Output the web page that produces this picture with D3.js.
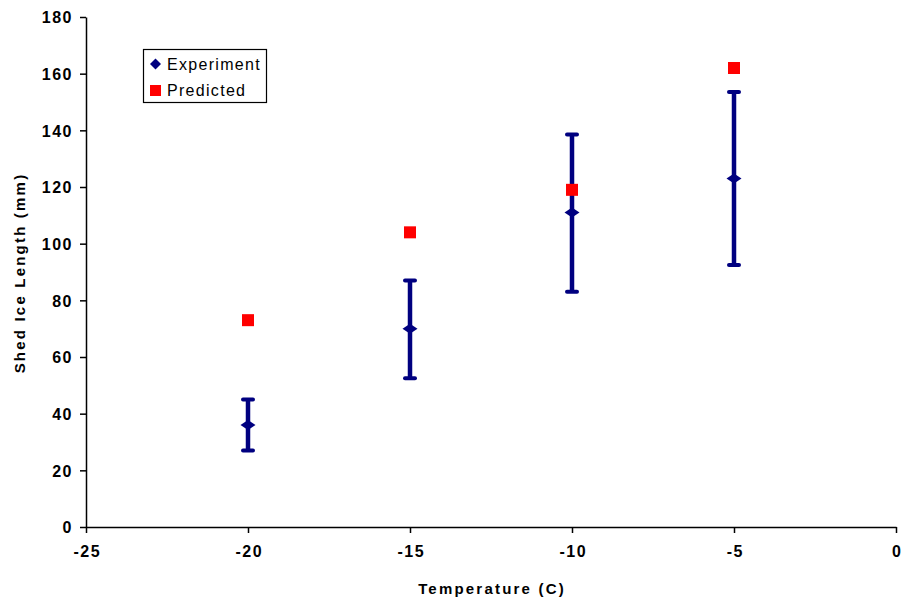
<!DOCTYPE html>
<html><head><meta charset="utf-8">
<script src="https://cdn.jsdelivr.net/npm/d3@7/dist/d3.min.js"></script>
<style>body{margin:0;background:#fff;} svg{display:block;}</style>
</head><body>
<svg id="c" width="905" height="606"></svg>
<script>
const temps = [-20, -15, -10, -5];
const experiment = [36, 70, 111, 123];
const errLow = [27, 52.5, 83, 92.5];
const errHigh = [45, 87, 138.5, 153.5];
const predicted = [73, 104, 119, 162];
const xTicks = [-25, -20, -15, -10, -5, 0];
const yTicks = [0, 20, 40, 60, 80, 100, 120, 140, 160, 180];
const seriesNames = ["Experiment", "Predicted"];

const svg = d3.select("#c");
const x = d3.scaleLinear().domain([-25, 0]).range([86, 896]);
const y = d3.scaleLinear().domain([0, 180]).range([527, 17]);
const font = "'Liberation Sans', Arial, sans-serif";
const navy = "#000080";

// custom diamond with given width/height
const diamondType = (w, h) => ({ draw(ctx) { ctx.moveTo(0, -h / 2); ctx.lineTo(w / 2, 0); ctx.lineTo(0, h / 2); ctx.lineTo(-w / 2, 0); ctx.closePath(); } });

const xAxis = svg.append("g").attr("transform", "translate(0,527)")
  .call(d3.axisBottom(x).tickValues(xTicks).tickSize(6).tickPadding(13).tickSizeOuter(0).tickFormat(d => String(d)));
const yAxis = svg.append("g").attr("transform", "translate(86,0)")
  .call(d3.axisLeft(y).tickValues(yTicks).tickSize(6).tickPadding(7).tickSizeOuter(0).tickFormat(d => String(d)));
[xAxis, yAxis].forEach(a => {
  a.select(".domain").attr("stroke", "#000").attr("stroke-width", 1.5);
  a.selectAll(".tick line").attr("stroke", "#000").attr("stroke-width", 1.5);
  a.selectAll(".tick text").attr("font-family", font).attr("font-size", 16).attr("font-weight", "bold")
    .attr("letter-spacing", 1.5).attr("fill", "#000");
});
yAxis.selectAll(".tick text").attr("dy", "0.36em");
xAxis.selectAll(".tick text").attr("dx", 0.75);

svg.append("text").attr("x", 492).attr("y", 594).attr("text-anchor", "middle")
  .attr("font-family", font).attr("font-size", 15).attr("font-weight", "bold").attr("letter-spacing", 2.2).text("Temperature (C)");
svg.append("text").attr("transform", "translate(25,273) rotate(-90)").attr("text-anchor", "middle")
  .attr("font-family", font).attr("font-size", 15).attr("font-weight", "bold").attr("letter-spacing", 2.2).text("Shed Ice Length (mm)");

const eg = svg.append("g");
temps.forEach((t, i) => {
  const cx = x(t);
  eg.append("line").attr("x1", cx).attr("x2", cx).attr("y1", y(errLow[i])).attr("y2", y(errHigh[i]))
    .attr("stroke", navy).attr("stroke-width", 4.5);
  [errLow[i], errHigh[i]].forEach(v => {
    eg.append("line").attr("x1", cx - 5).attr("x2", cx + 5).attr("y1", y(v)).attr("y2", y(v))
      .attr("stroke", navy).attr("stroke-width", 4).attr("stroke-linecap", "round");
  });
});
svg.append("g").selectAll("path").data(temps).join("path")
  .attr("transform", (d, i) => `translate(${x(d)},${y(experiment[i])})`)
  .attr("d", d3.symbol().type(diamondType(15, 10))()).attr("fill", navy);
svg.append("g").selectAll("rect").data(temps).join("rect")
  .attr("x", d => x(d) - 6).attr("y", (d, i) => y(predicted[i]) - 6)
  .attr("width", 12).attr("height", 12).attr("fill", "#ff0000");

// legend
const lg = svg.append("g");
lg.append("rect").attr("x", 143.5).attr("y", 49.5).attr("width", 123).attr("height", 53)
  .attr("fill", "#fff").attr("stroke", "#000").attr("stroke-width", 1.2);
lg.append("path").attr("d", d3.symbol().type(diamondType(11, 11))()).attr("fill", navy)
  .attr("transform", "translate(155.5,64)");
lg.append("rect").attr("x", 150).attr("y", 85).attr("width", 11).attr("height", 11).attr("fill", "#ff0000");
seriesNames.forEach((n, i) => {
  lg.append("text").attr("x", 167).attr("y", 64 + i * 26).attr("dy", "0.36em")
    .attr("font-family", font).attr("font-size", 16).attr("letter-spacing", 1.3).attr("fill", "#000").text(n);
});
</script>
</body></html>
